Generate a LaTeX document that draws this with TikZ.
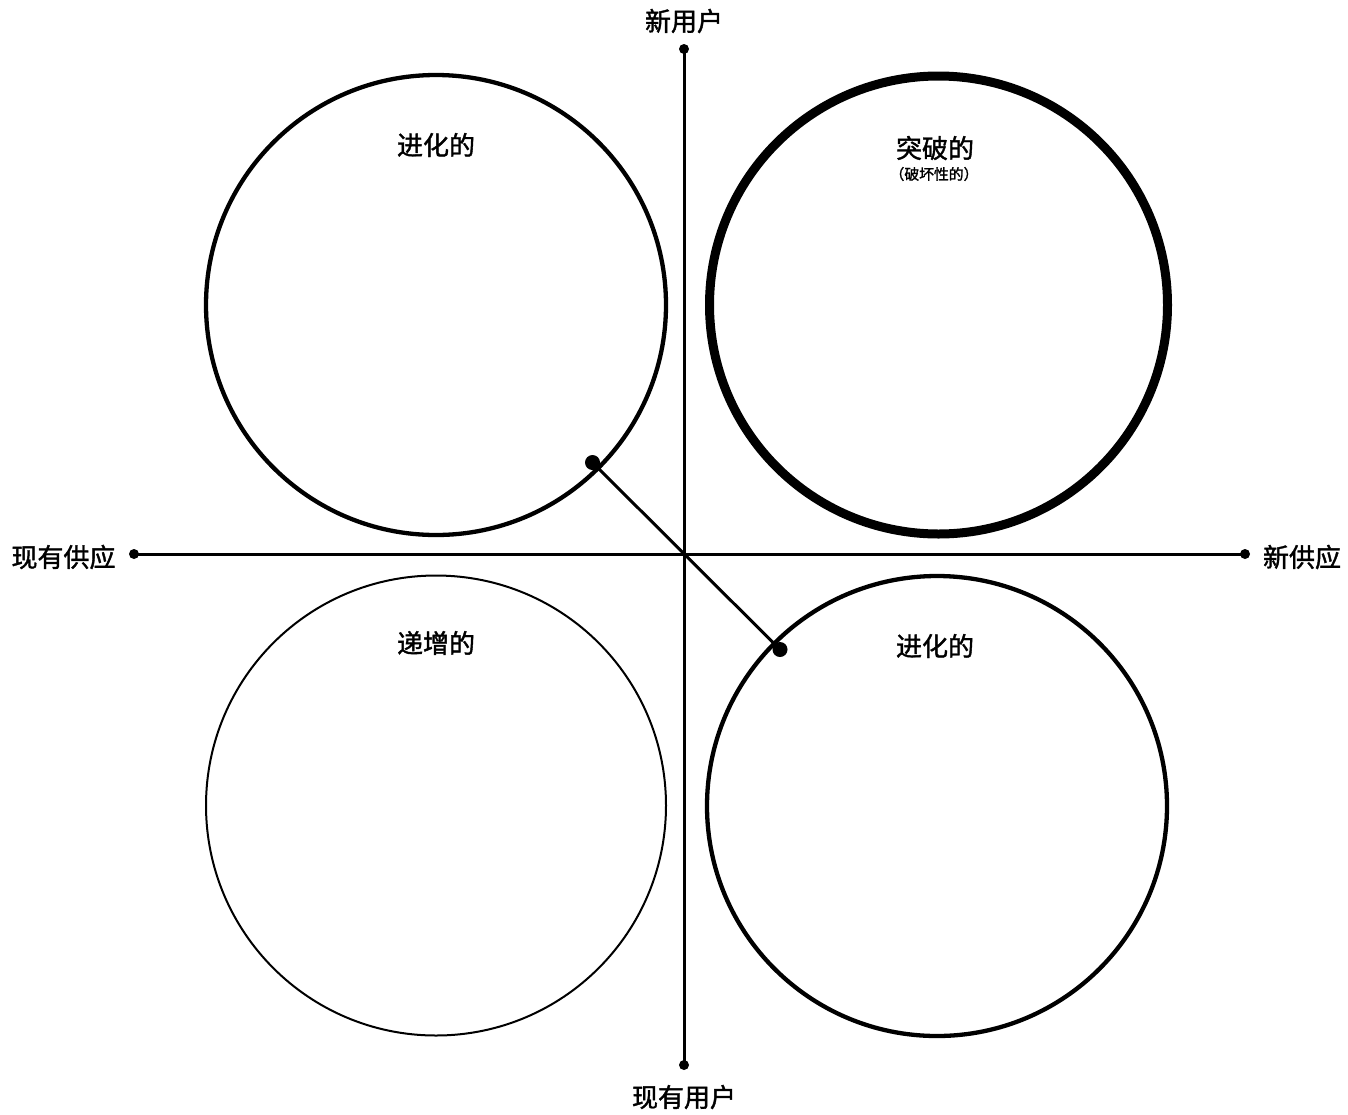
\documentclass[tikz,border=0pt]{standalone}
\usepackage{fontspec}
\newfontfamily\cjk{Noto Sans CJK SC}[FakeBold=1.5]
\begin{document}
\begin{tikzpicture}[x=1pt,y=-1pt,
  ring/.style={circle, draw, minimum size=460pt, inner sep=0pt},
  axis/.style={line width=3pt},
  enddot/.style={circle, fill, inner sep=0pt, minimum size=10pt},
  bigdot/.style={circle, fill, inner sep=0pt, minimum size=15pt},
  lbl/.style={font=\cjk\fontsize{26}{30}\selectfont, inner sep=0pt},
  sublbl/.style={font=\cjk\fontsize{14.8}{17}\selectfont, inner sep=0pt}]
\useasboundingbox (0,0) rectangle (1348,1114);
% circles
\node[ring, line width=4.3pt] (evo1) at (436,305) {};
\node[ring, line width=9pt, minimum size=458pt] (brk) at (938.5,305) {};
\node[ring, line width=2pt] (inc) at (436,805.5) {};
\node[ring, line width=4.3pt] (evo2) at (937,806) {};
% axes
\node[enddot] (top) at (684,49) {};
\node[enddot] (bot) at (684,1065) {};
\node[enddot] (left) at (134,554) {};
\node[enddot] (right) at (1245,554) {};
\draw[axis] (top.center) -- (bot.center);
\draw[axis] (left.center) -- (right.center);
% diagonal
\node[bigdot] (d1) at (592.5,462.5) {};
\node[bigdot] (d2) at (780,649.5) {};
\draw[axis] (d1.center) -- (d2.center);
% axis labels
\node[lbl] (tnew) at (684,21) {新用户};
\node[lbl] (texu) at (684,1097) {现有用户};
\node[lbl] (texs) at (63.5,557) {现有供应};
\node[lbl] (tnews) at (1302,557) {新供应};
% circle labels
\node[lbl] (l1) at (436,145) {进化的};
\node[lbl] (l2) at (935,148) {突破的};
\node[sublbl] (l2s) at (934,174) {（破坏性的）};
\node[lbl] (l3) at (436,643) {递增的};
\node[lbl] (l4) at (935,646) {进化的};
\end{tikzpicture}
\end{document}
